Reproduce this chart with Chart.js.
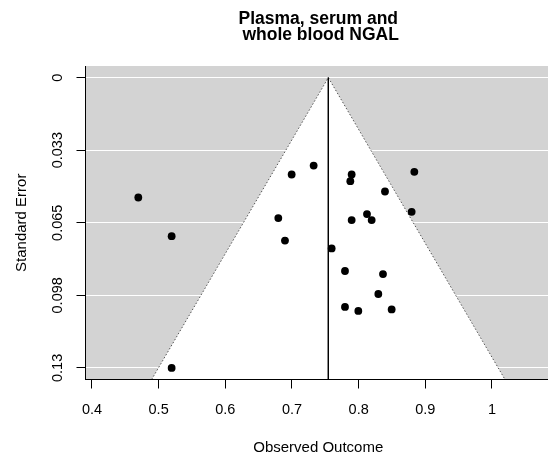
<!DOCTYPE html>
<html>
<head>
<meta charset="utf-8">
<script src="https://cdn.jsdelivr.net/npm/chart.js@4.4.1/dist/chart.umd.min.js"></script>
<style>
html, body { margin: 0; padding: 0; background: #fff; }
</style>
</head>
<body>
<canvas id="funnel" width="548" height="455"></canvas>
<script>
const titleLines = ['Plasma, serum and', ' whole blood NGAL'];
const xTitle = 'Observed Outcome';
const yTitle = 'Standard Error';

// one entry per study
const estimates = [0.4695, 0.5195, 0.5195, 0.6995, 0.6795, 0.6895, 0.7325, 0.7895, 0.7875, 0.8835, 0.8395,
    0.8795, 0.8125, 0.8195, 0.7895, 0.7595, 0.7795, 0.8365, 0.8295, 0.7795, 0.7995, 0.8495];
const stdErrors = [0.0537, 0.0710, 0.1300, 0.0434, 0.0629, 0.0730, 0.0394, 0.0434, 0.0464, 0.0422, 0.0510,
    0.0601, 0.0611, 0.0638, 0.0638, 0.0765, 0.0866, 0.0880, 0.0969, 0.1027, 0.1045, 0.1038];

// 95% region and pooled estimate line
const funnelOutcome = [0.4895, 0.7545, 1.0195];
const funnelSE = [0.1352, 0, 0.1352];
const pooledOutcome = [0.7545, 0.7545];
const pooledSE = [0, 0.1352];

const xTicks = [0.4, 0.5, 0.6, 0.7, 0.8, 0.9, 1.0];
const xTickLabels = ['0.4', '0.5', '0.6', '0.7', '0.8', '0.9', '1'];
const yTicks = [0, 0.0325, 0.065, 0.0975, 0.13];
const yTickLabels = ['0', '0.033', '0.065', '0.098', '0.13'];
const xRange = [0.3903, 1.084];
const yRange = [-0.0052, 0.1352];

const FONT = '"Liberation Sans", Arial, Helvetica, sans-serif';

const toPoints = (xs, ys) => xs.map((x, i) => ({ x: x, y: ys[i] }));

const backdrop = {
    id: 'backdrop',
    beforeDraw(chart) {
        const { ctx, chartArea: a } = chart;
        ctx.save();
        ctx.fillStyle = '#d3d3d3';
        ctx.fillRect(a.left, a.top, a.right - a.left, a.bottom - a.top);
        ctx.restore();
    }
};

const texts = {
    id: 'texts',
    afterDraw(chart) {
        const { ctx, chartArea: a, scales } = chart;
        const cx = (a.left + a.right) / 2 + 1.5;
        const cy = (a.top + a.bottom) / 2;
        ctx.save();
        ctx.fillStyle = '#000';
        ctx.textAlign = 'center';
        ctx.textBaseline = 'alphabetic';

        ctx.font = 'bold 17.5px ' + FONT;
        ctx.fillText(titleLines[0], cx, 24);
        ctx.fillText(titleLines[1], cx, 39.5);

        ctx.font = '14.5px ' + FONT;
        xTicks.forEach((v, i) => {
            ctx.fillText(xTickLabels[i], scales.x.getPixelForValue(v), a.bottom + 34);
        });
        yTicks.forEach((v, i) => {
            ctx.save();
            ctx.translate(61.7, scales.y.getPixelForValue(v));
            ctx.rotate(-Math.PI / 2);
            ctx.fillText(yTickLabels[i], 0, 0);
            ctx.restore();
        });

        ctx.font = '15px ' + FONT;
        ctx.fillText(xTitle, cx, a.bottom + 72);
        ctx.save();
        ctx.translate(25.5, cy);
        ctx.rotate(-Math.PI / 2);
        ctx.fillText(yTitle, 0, 0);
        ctx.restore();
        ctx.restore();
    }
};

new Chart(document.getElementById('funnel'), {
    type: 'scatter',
    data: {
        datasets: [
            {
                type: 'line',
                data: toPoints(funnelOutcome, funnelSE),
                borderColor: '#555',
                borderWidth: 1,
                borderDash: [1.5, 2],
                backgroundColor: '#fff',
                fill: { value: yRange[1] },
                pointRadius: 0,
                tension: 0,
                clip: { left: 0, top: 0, right: 0, bottom: -0.5 },
                order: 3
            },
            {
                type: 'line',
                data: toPoints(pooledOutcome, pooledSE),
                borderColor: '#000',
                borderWidth: 1,
                fill: false,
                pointRadius: 0,
                order: 2
            },
            {
                data: toPoints(estimates, stdErrors),
                backgroundColor: '#000',
                borderWidth: 0,
                pointRadius: 3.9,
                order: 1
            }
        ]
    },
    options: {
        responsive: false,
        animation: false,
        devicePixelRatio: 1,
        layout: { autoPadding: false, padding: { top: 66, left: 0, right: 0, bottom: 0 } },
        plugins: { legend: { display: false }, tooltip: { enabled: false } },
        scales: {
            x: {
                type: 'linear',
                min: xRange[0],
                max: xRange[1],
                afterBuildTicks: s => { s.ticks = xTicks.map(v => ({ value: v })); },
                afterFit: s => { s.height = 455 - 379.5; },
                ticks: { display: false },
                grid: { drawOnChartArea: false, drawTicks: true, tickLength: 9, tickColor: '#000', tickWidth: 1 },
                border: { display: true, color: '#000', width: 1 }
            },
            y: {
                type: 'linear',
                reverse: true,
                min: yRange[0],
                max: yRange[1],
                afterBuildTicks: s => { s.ticks = yTicks.map(v => ({ value: v })); },
                afterFit: s => { s.width = 85.5; },
                ticks: { display: false },
                grid: { color: '#fff', lineWidth: 1, drawTicks: true, tickLength: 9, tickColor: '#000', tickWidth: 1 },
                border: { display: true, color: '#000', width: 1 }
            }
        }
    },
    plugins: [backdrop, texts]
});
</script>
</body>
</html>
